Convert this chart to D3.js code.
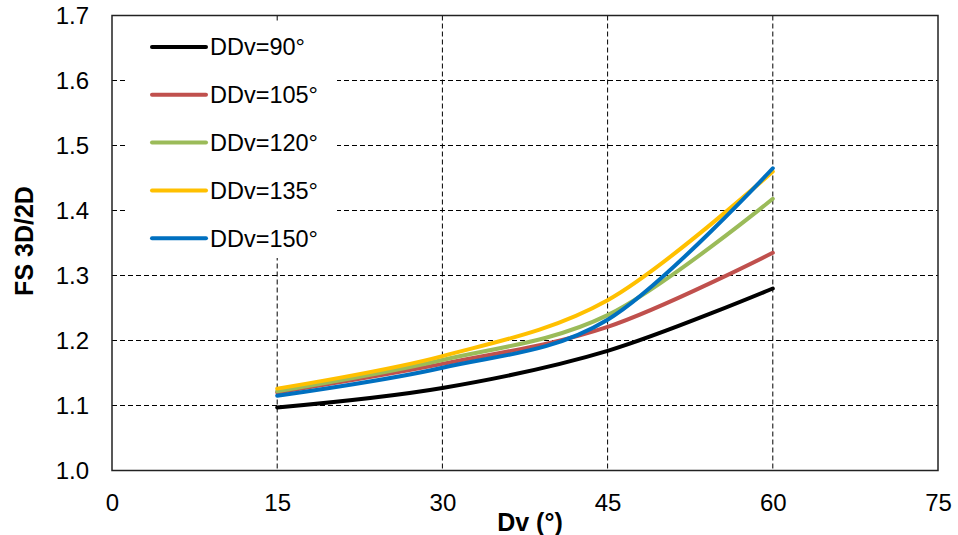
<!DOCTYPE html>
<html>
<head>
<meta charset="utf-8">
<script src="https://cdn.jsdelivr.net/npm/d3@7"></script>
<style>
  body { margin: 0; background: #fff; }
  text { font-family: "Liberation Sans", Arial, sans-serif; fill: #000; }
  .grid line { stroke: #000; stroke-width: 1; stroke-dasharray: 5,3; }
  .serie { fill: none; stroke-width: 4; stroke-linejoin: round; stroke-linecap: round; }
</style>
</head>
<body>
<svg width="958" height="535"></svg>
<script>
(function () {
    //Données
    var dvValues = [15, 30, 45, 60];
    var seriesNames = ["DDv=90°", "DDv=105°", "DDv=120°", "DDv=135°", "DDv=150°"];
    var seriesColors = ["#000000", "#C0504D", "#9BBB59", "#FFC000", "#0070C0"];
    var fs90  = [1.097, 1.127, 1.184, 1.280];
    var fs105 = [1.120, 1.164, 1.221, 1.335];
    var fs120 = [1.122, 1.170, 1.239, 1.418];
    var fs135 = [1.126, 1.176, 1.262, 1.460];
    var fs150 = [1.115, 1.158, 1.232, 1.465];
    var seriesValues = [fs90, fs105, fs120, fs135, fs150];
    var xTicks = [0, 15, 30, 45, 60, 75];
    var yTicks = [1.0, 1.1, 1.2, 1.3, 1.4, 1.5, 1.6, 1.7];

    var svg = d3.select("svg");
    var margin = {top: 15.5, right: 20, bottom: 64.5, left: 112},
        width = +svg.attr("width") - margin.left - margin.right,
        height = +svg.attr("height") - margin.top - margin.bottom;

    var g = svg.append("g")
        .attr("transform", "translate(" + margin.left + "," + margin.top + ")");

    var x = d3.scaleLinear().domain([0, 75]).range([0, width]);
    var y = d3.scaleLinear().domain([1.0, 1.7]).range([height, 0]);

    //Grille pointillée
    var grid = g.append("g").attr("class", "grid");
    grid.selectAll(".h").data(yTicks.slice(1, -1)).enter().append("line")
        .attr("x1", 0).attr("x2", width)
        .attr("y1", d => y(d)).attr("y2", d => y(d));
    grid.selectAll(".v").data(xTicks.slice(1, -1)).enter().append("line")
        .attr("y1", 0).attr("y2", height)
        .attr("x1", d => x(d)).attr("x2", d => x(d));

    //Cadre
    g.append("rect")
        .attr("width", width).attr("height", height)
        .attr("fill", "none").attr("stroke", "#222").attr("stroke-width", 1.5);

    //Axes (labels seulement)
    var axeX = g.append("g")
        .attr("transform", "translate(0," + height + ")")
        .call(d3.axisBottom(x).tickValues(xTicks).tickSize(0).tickPadding(23).tickFormat(d3.format("d")));
    var axeY = g.append("g")
        .call(d3.axisLeft(y).tickValues(yTicks).tickSize(0).tickPadding(23).tickFormat(d3.format(".1f")));
    [axeX, axeY].forEach(a => {
        a.select(".domain").remove();
        a.selectAll("text").style("font-size", "24px").style("font-family", "Liberation Sans, Arial, sans-serif");
    });

    //Titres des axes
    svg.append("text")
        .attr("x", margin.left + width / 2 + 5).attr("y", 531)
        .attr("text-anchor", "middle")
        .style("font-size", "25px").style("font-weight", "bold")
        .text("Dv (°)");
    svg.append("text")
        .attr("transform", "translate(33," + 241 + ") rotate(-90)")
        .attr("text-anchor", "middle")
        .style("font-size", "25px").style("font-weight", "bold")
        .text("FS 3D/2D");

    //Courbes lissées
    var line = d3.line()
        .x((d, i) => x(dvValues[i]))
        .y(d => y(d))
        .curve(d3.curveCatmullRom.alpha(0));
    g.selectAll(".serie").data(seriesValues).enter().append("path")
        .attr("class", "serie")
        .attr("stroke", (d, i) => seriesColors[i])
        .attr("d", line);

    //Légende
    var legende = svg.append("g");
    legende.append("rect")
        .attr("x", 125).attr("y", 22).attr("width", 212).attr("height", 236)
        .attr("fill", "#fff");
    var items = legende.selectAll(".item").data(seriesNames).enter().append("g")
        .attr("transform", (d, i) => "translate(150," + (47 + i * 47.8) + ")");
    items.append("line")
        .attr("x1", 2).attr("x2", 56)
        .attr("stroke", (d, i) => seriesColors[i])
        .attr("stroke-width", 4).attr("stroke-linecap", "round");
    items.append("text")
        .attr("x", 60).attr("dy", "0.36em")
        .style("font-size", "23.5px")
        .text(d => d);
})();
</script>
</body>
</html>
